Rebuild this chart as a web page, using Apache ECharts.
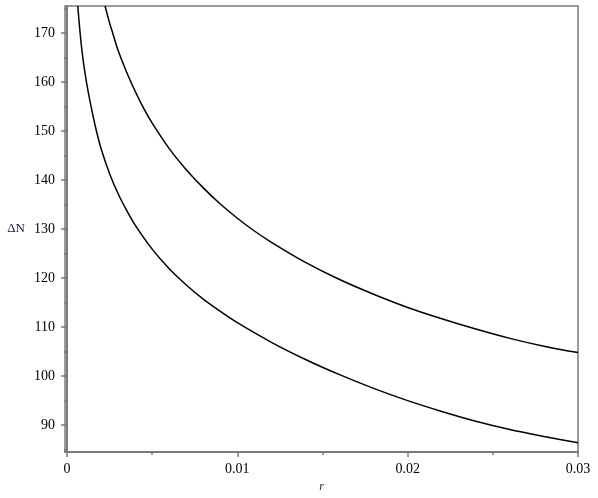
<!DOCTYPE html>
<html>
<head>
<meta charset="utf-8">
<script src="https://cdn.jsdelivr.net/npm/echarts@6/dist/echarts.min.js"></script>
<style>
  html, body { margin: 0; padding: 0; background: #fff; }
  #chart { width: 598px; height: 498px; }
</style>
</head>
<body>
<div id="chart"></div>
<script>
// lower curve
const rLow = [0.00063, 0.0007, 0.0008, 0.0009, 0.001, 0.0012, 0.0015, 0.00174, 0.002, 0.0025,
  0.003, 0.0035, 0.004, 0.005, 0.006, 0.007, 0.008, 0.009, 0.010, 0.012,
  0.014, 0.016, 0.018, 0.020, 0.022, 0.024, 0.026, 0.028, 0.030];
const nLow = [175.5, 172.6, 168.8, 165.7, 163.1, 158.8, 153.5, 149.8, 146.4, 141.3,
  137.2, 133.8, 130.8, 125.9, 121.9, 118.6, 115.7, 113.2, 110.9, 106.9,
  103.4, 100.3, 97.5, 95.0, 92.8, 90.8, 89.1, 87.7, 86.4];

// upper curve
const rHigh = [0.00223, 0.0025, 0.00268, 0.003, 0.0035, 0.004, 0.0045, 0.005, 0.006, 0.007,
  0.008, 0.009, 0.010, 0.011, 0.012, 0.014, 0.016, 0.018, 0.020, 0.022,
  0.024, 0.026, 0.028, 0.030];
const nHigh = [175.5, 172.0, 170.0, 166.4, 162.0, 158.1, 154.6, 151.6, 146.4, 142.1,
  138.4, 135.1, 132.2, 129.6, 127.3, 123.2, 119.7, 116.7, 114.0, 111.7,
  109.6, 107.7, 106.1, 104.8];

const yMajor = [90, 100, 110, 120, 130, 140, 150, 160, 170];
const yMinor = [85, 95, 105, 115, 125, 135, 145, 155, 165, 175];
const xMajor = [0, 0.01, 0.02, 0.03];
const xMinor = [0.005, 0.015, 0.025];

const pair = (xs, ys) => xs.map((x, i) => [x, ys[i]]);

const axisGray = '#7a7a7a';
const serif = 'Liberation Serif';
const xRange = {min: -0.00012, max: 0.03};
const yRange = {min: 84.5, max: 175.5};

let chart = echarts.init(document.getElementById('chart'), null, {renderer: 'canvas'});
chart.setOption({
  animation: false,
  grid: {
    left: 65, right: 20, top: 6, bottom: 43,
    show: true,
    borderColor: axisGray,
    borderWidth: 1.5
  },
  xAxis: [{
    type: 'value',
    ...xRange,
    name: 'r',
    nameLocation: 'middle',
    nameGap: 28,
    nameTextStyle: {fontFamily: serif, fontStyle: 'italic', fontSize: 12, color: '#1a1a40'},
    axisLine: {lineStyle: {color: axisGray, width: 2}},
    axisTick: {customValues: xMajor, length: 5, lineStyle: {color: axisGray, width: 1.5}},
    axisLabel: {
      customValues: xMajor, margin: 10,
      fontFamily: serif, fontSize: 14, color: '#000',
      formatter: v => v === 0 ? '0' : String(+v.toFixed(3))
    },
    splitLine: {show: false}
  }, {
    type: 'value',
    ...xRange,
    position: 'bottom',
    axisLine: {show: false},
    axisTick: {customValues: xMinor, length: 3, lineStyle: {color: axisGray, width: 1.5}},
    axisLabel: {show: false},
    splitLine: {show: false}
  }],
  yAxis: [{
    type: 'value',
    ...yRange,
    name: 'ΔN',
    nameLocation: 'middle',
    nameRotate: 0,
    nameGap: 40,
    nameTextStyle: {fontFamily: serif, fontSize: 13, color: '#1a1a40'},
    axisLine: {show: true, lineStyle: {color: axisGray, width: 2}},
    axisTick: {show: true, customValues: yMajor, length: 6, lineStyle: {color: axisGray, width: 1.5}},
    axisLabel: {customValues: yMajor, margin: 10, fontFamily: serif, fontSize: 14, color: '#000'},
    splitLine: {show: false}
  }, {
    type: 'value',
    ...yRange,
    position: 'left',
    axisLine: {show: false},
    axisTick: {show: true, customValues: yMinor, length: 3, lineStyle: {color: axisGray, width: 1.5}},
    axisLabel: {show: false},
    splitLine: {show: false}
  }],
  series: [{
    type: 'line',
    data: pair(rLow, nLow),
    showSymbol: false,
    smooth: 0.3,
    clip: true,
    lineStyle: {color: '#000', width: 1.5}
  }, {
    type: 'line',
    data: pair(rHigh, nHigh),
    showSymbol: false,
    smooth: 0.3,
    clip: true,
    lineStyle: {color: '#000', width: 1.5}
  }]
});
</script>
</body>
</html>
